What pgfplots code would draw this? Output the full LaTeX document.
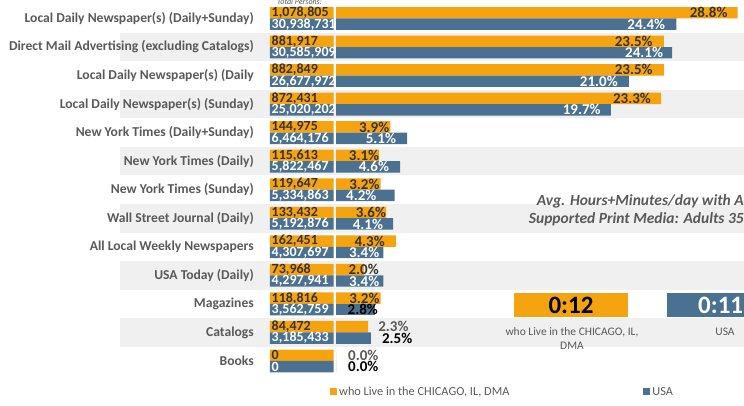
\documentclass[border=0pt]{standalone}
\usepackage{pgfplots}
\pgfplotsset{compat=1.18}
\usepackage{pgfplotstable}
\usepackage{fontspec}
\setmainfont{Carlito}

\definecolor{chi}{HTML}{F5A30F}
\definecolor{usa}{HTML}{4A7191}
\definecolor{band}{HTML}{F0F0F0}
\definecolor{catgray}{HTML}{595959}
\definecolor{darklab}{HTML}{3A3226}

% counts and shares per medium (row 0 = top)
\pgfplotstableread{
idx cntchi    cntusa     pctchi pctusa dxc  dxu
0   1,078,805 30,938,731 28.8   24.4   -10  -11
1   881,917   30,585,909 23.5   24.1   -11  -9
2   882,849   26,677,972 23.5   21.0   -11  -11
3   872,431   25,020,202 23.3   19.7   -10  -10
4   144,975   6,464,176  3.9    5.1    -1   -11
5   115,613   5,822,467  3.1    4.6    0    -11
6   119,647   5,334,863  3.2    4.2    -1   -18
7   133,432   5,192,876  3.6    4.1    0    -10
8   162,451   4,307,697  4.3    3.4    -11  -4
9   73,968    4,297,941  2.0    3.4    15   -4
10  118,816   3,562,759  3.2    2.8    -1   3
11  84,472    3,185,433  2.3    2.5    10   11
12  0         0          0.0    0.0    12   12
}\datatable

\begin{document}
\begin{tikzpicture}
\useasboundingbox (0,0) rectangle (744pt,-406pt);

% alternating row bands
\foreach \i in {1,3,5,7,9,11}{
  \fill[band] (120pt,{-18.5pt-28.54pt*\i+14.27pt}) rectangle (744pt,{-18.5pt-28.54pt*\i-14.27pt});
}

\node[anchor=west, font=\itshape\fontsize{8}{9}\selectfont, text=catgray, inner sep=0pt] at (277pt,-2pt) {Total Persons:};

% count column
\begin{axis}[
  at={(270pt,-4.2pt)}, anchor=north west, scale only axis,
  width=63.5pt, height=371pt,
  xmin=0, xmax=1, ymin=-0.5, ymax=12.5, y dir=reverse,
  xbar, bar width=0.4,
  axis line style={draw=none}, major tick length=0pt,
  xtick=\empty, ytick={0,...,12},
  yticklabels={Local Daily Newspaper(s) (Daily+Sunday),
    Direct Mail Advertising (excluding Catalogs),
    Local Daily Newspaper(s) (Daily,
    Local Daily Newspaper(s) (Sunday),
    New York Times (Daily+Sunday),
    New York Times (Daily),
    New York Times (Sunday),
    Wall Street Journal (Daily),
    All Local Weekly Newspapers,
    USA Today (Daily),
    Magazines, Catalogs, Books},
  yticklabel style={font=\bfseries\fontsize{13.6}{15}\selectfont, text=catgray, inner sep=0pt, xshift=-16pt},
  clip=false,
  nodes near coords, point meta=explicit symbolic,
  every node near coord/.append style={anchor=west, xshift=-62pt, inner sep=0pt,
    font=\bfseries\fontsize{14}{15}\selectfont},
]
\addplot[fill=chi, draw=none, bar shift=-0.2,
  every node near coord/.append style={text=darklab}]
  table[x expr=1, y=idx, meta=cntchi]{\datatable};
\addplot[fill=usa, draw=none, bar shift=0.2,
  every node near coord/.append style={text=white}]
  table[x expr=1, y=idx, meta=cntusa]{\datatable};
\end{axis}

% percentage bars
\begin{axis}[
  at={(336pt,-4.2pt)}, anchor=north west, scale only axis,
  width=408pt, height=371pt,
  xmin=0, xmax=29.25, ymin=-0.5, ymax=12.5, y dir=reverse,
  xbar, bar width=0.4, hide axis, clip=false,
  point meta=x,
  nodes near coords={\pgfmathprintnumber[fixed,fixed zerofill,precision=1]{\pgfplotspointmeta}\%},
  /pgf/number format/assume math mode=true,
  every node near coord/.append style={inner sep=0pt, font=\bfseries\fontsize{15}{16}\selectfont},
  legend columns=2,
  legend style={at={(axis description cs:-0.022,-0.045)}, anchor=west, draw=none, fill=none,
    font=\fontsize{12.3}{14}\selectfont, text=catgray,
    /tikz/every even column/.append style={column sep=132pt}},
  legend image code/.code={\fill[#1] (0pt,-3.5pt) rectangle (7pt,3.5pt);},
]
\addplot[fill=chi, draw=none, bar shift=-0.2, restrict y to domain=0:10,
  visualization depends on={\thisrow{dxc} \as \dx},
  every node near coord/.append style={anchor=east, xshift=\dx pt, text=darklab}]
  table[x=pctchi, y=idx]{\datatable};
\addplot[fill=usa, draw=none, bar shift=0.2, restrict y to domain=0:9,
  visualization depends on={\thisrow{dxu} \as \dx},
  every node near coord/.append style={anchor=east, xshift=\dx pt, text=white}]
  table[x=pctusa, y=idx]{\datatable};
\addplot[forget plot, fill=chi, draw=none, bar shift=-0.2, restrict y to domain=11:12,
  visualization depends on={\thisrow{dxc} \as \dx},
  every node near coord/.append style={anchor=west, xshift=\dx pt, text=catgray}]
  table[x=pctchi, y=idx]{\datatable};
\addplot[forget plot, fill=usa, draw=none, bar shift=0.2, restrict y to domain=10:10,
  visualization depends on={\thisrow{dxu} \as \dx},
  every node near coord/.append style={anchor=east, xshift=\dx pt, text=black}]
  table[x=pctusa, y=idx]{\datatable};
\addplot[forget plot, fill=usa, draw=none, bar shift=0.2, restrict y to domain=11:12,
  visualization depends on={\thisrow{dxu} \as \dx},
  every node near coord/.append style={anchor=west, xshift=\dx pt, text=black}]
  table[x=pctusa, y=idx]{\datatable};
\legend{{who Live in the CHICAGO, IL, DMA}, USA}
\end{axis}

% average time panel (text runs off the right edge, as in the source)
\node[anchor=east, font=\bfseries\itshape\fontsize{15.5}{18}\selectfont, text=catgray, inner sep=0pt] at (744pt,-201pt) {Avg. Hours+Minutes/day with A};
\node[anchor=east, font=\bfseries\itshape\fontsize{15.5}{18}\selectfont, text=catgray, inner sep=0pt] at (744pt,-219pt) {Supported Print Media: Adults 35};
\fill[chi] (514pt,-293pt) rectangle (628pt,-317pt);
\node[font=\bfseries\fontsize{25}{26}\selectfont, text=black] at (571pt,-305pt) {0:12};
\fill[usa] (667pt,-293pt) rectangle (781pt,-317pt);
\node[anchor=west, font=\bfseries\fontsize{25}{26}\selectfont, text=white, inner sep=0pt] at (698pt,-305pt) {0:11};
\node[align=center, font=\fontsize{11.5}{14}\selectfont, text=catgray] at (572pt,-339pt) {who Live in the CHICAGO, IL,\\DMA};
\node[font=\fontsize{11.5}{13}\selectfont, text=catgray] at (725pt,-332pt) {USA};
\end{tikzpicture}
\end{document}
